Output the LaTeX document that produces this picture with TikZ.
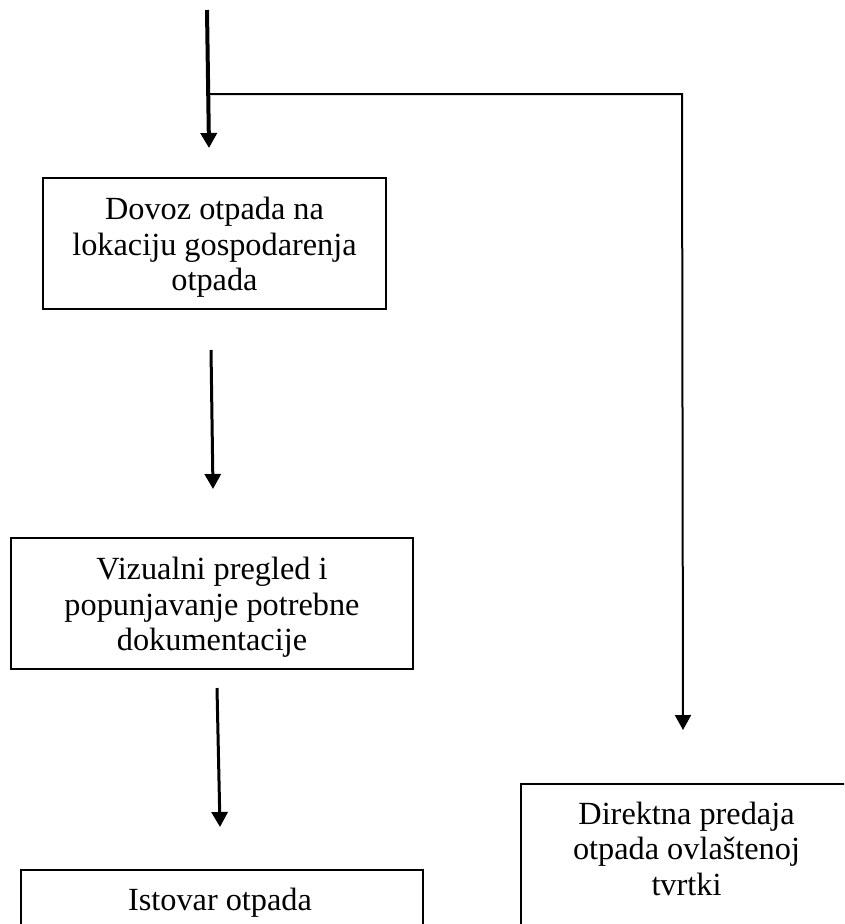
\documentclass[tikz,border=0pt]{standalone}
\usepackage{fontspec}
\setmainfont{Liberation Serif}
\usetikzlibrary{arrows.meta}
\begin{document}
\begin{tikzpicture}[x=1pt,y=-1pt,
  boxnode/.style={draw=black, line width=2pt, rectangle, inner sep=0pt, outer sep=0pt},
  txt/.style={align=center, inner sep=0pt, anchor=north, font=\fontsize{32.3}{35.6}\selectfont},
  arr/.style={line width=3pt, -{Triangle[length=15pt,width=16pt]}},
  ]
\useasboundingbox (0,0) rectangle (844,924);
\clip (0,0) rectangle (844,924);
% boxes
\node[boxnode, minimum width=343pt, minimum height=131pt] (b1) at (214.5,243.5) {};
\node[boxnode, minimum width=402pt, minimum height=131pt] (b2) at (212,603.5) {};
\node[boxnode, minimum width=402pt, minimum height=90pt] (b3) at (222,915) {};
\node[boxnode, minimum width=349pt, minimum height=140.5pt] (b4) at (695.5,854.25) {};
% texts
\node[txt] (t1) at (214.5,196.3) {\rule{0pt}{23pt}Dovoz otpada na\\lokaciju gospodarenja\\otpada};
\node[txt] (t2) at (212,556.3) {\rule{0pt}{23pt}Vizualni pregled i\\popunjavanje potrebne\\dokumentacije};
\node[txt] (t3) at (220,887) {\rule{0pt}{23pt}Istovar otpada};
\node[txt] (t4) at (686.5,801) {\rule{0pt}{23pt}Direktna predaja\\otpada ovlaštenoj\\tvrtki};
% connector coordinates
\coordinate (top) at (207,10);
\coordinate (split) at (208.5,94);
\coordinate (a1end) at (209,148);
\coordinate (corner) at (682,94);
\coordinate (a4end) at (683,730);
\coordinate (a2start) at (211,350);
\coordinate (a2end) at (213,489);
\coordinate (a3start) at (217,688);
\coordinate (a3end) at (220,827);
% connectors
\draw[arr, line width=4pt] (top) -- (a1end);
\draw[arr, line width=2pt] (split) -- (corner) -- (a4end);
\draw[arr] (a2start) -- (a2end);
\draw[arr] (a3start) -- (a3end);
\end{tikzpicture}
\end{document}
